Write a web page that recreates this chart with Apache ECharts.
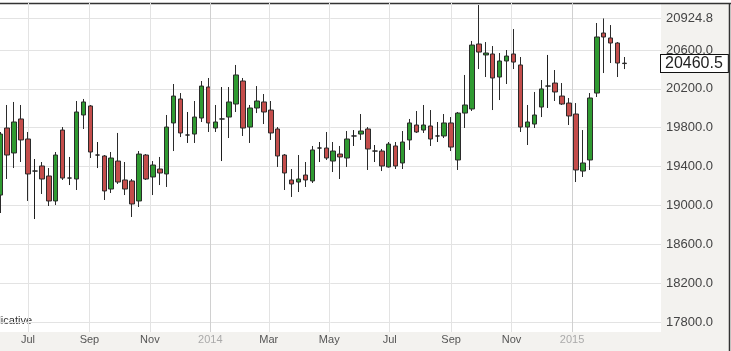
<!DOCTYPE html>
<html><head><meta charset="utf-8">
<script src="https://cdn.jsdelivr.net/npm/echarts@6/dist/echarts.min.js"></script>
<style>html,body{margin:0;padding:0;background:#f3f2ef}#c{width:731px;height:351px}</style>
</head><body><div id="c"></div>
<script>
// weekly candles, first week starting Monday
const firstWeek = '2013-06-03';
const opens  = [19107,19797,19540,19890,19684,19354,19406,19303,19046,19776,19282,19272,19931,20024,19519,19509,19169,19457,19262,19252,19046,19519,19293,19375,19324,19849,20096,19725,19735,19900,20219,19797,19890,19910,20044,20281,19807,20003,20065,19982,19787,19519,19262,19241,19313,19252,19591,19591,19457,19529,19488,19715,19735,19787,19560,19560,19396,19612,19437,19674,19828,19776,19818,19715,19715,19849,19468,19951,19993,20662,20549,20559,20322,20487,20559,20446,19807,19838,20013,20229,20260,20126,20054,19941,19354,19468,20157,20775,20724,20672,20465];
const closes = [19735,19519,19859,19674,19324,19354,19272,19046,19519,19282,19282,19962,20065,19550,19519,19149,19488,19241,19169,19015,19529,19272,19416,19334,19807,20126,19746,19725,19910,20229,19849,19859,19890,20065,20343,19797,20003,20075,19962,19746,19509,19334,19221,19272,19262,19571,19591,19488,19560,19499,19684,19715,19766,19581,19560,19406,19632,19406,19653,19849,19756,19828,19684,19715,19849,19601,19951,20034,20651,20579,20569,20312,20487,20538,20476,19807,19859,19931,20199,20229,20168,20044,19921,19365,19437,20106,20734,20734,20672,20466,20460.5];
const lows   = [18922,19272,19385,19447,19046,18860,19118,18994,19004,19262,19210,19159,19787,19488,19385,19056,19128,19221,19107,18881,18984,19262,19107,19210,19190,19560,19704,19643,19643,19859,19756,19756,19457,19694,19962,19715,19643,19951,19838,19674,19396,19159,19087,19138,19190,19231,19447,19468,19344,19272,19396,19612,19674,19365,19447,19354,19390,19375,19375,19571,19746,19746,19612,19653,19694,19560,19365,19797,19972,20404,20322,19982,20085,20250,20404,19756,19622,19797,19910,20003,20075,20034,19828,19241,19293,19365,20116,20363,20466,20322,20404];
const highs  = [19756,20034,20065,20034,19756,19478,19447,19385,19550,19807,19499,20075,20096,20034,19653,19519,19550,19746,19447,19272,19560,19529,19457,19499,19931,20250,20157,19962,20075,20281,20312,20034,20219,20219,20446,20312,20034,20229,20147,20075,19807,19529,19375,19519,19447,19612,19653,19756,19653,19612,19766,19776,19941,19807,19622,19581,19653,19653,19766,19890,19972,20034,19982,19859,19941,19910,19962,20343,20693,21063,20682,20641,20569,20600,20816,20528,20034,20168,20291,20549,20394,20260,20106,20054,19776,20157,20878,20924.8,20857,20682,20528];

const yTickValues = [17800,18200,18600,19000,19400,19800,20200,20600,20924.8];
const xTickDates = ['2013-07-01','2013-09-01','2013-11-01','2014-01-01','2014-03-01','2014-05-01','2014-07-01','2014-09-01','2014-11-01','2015-01-01'];
const yearLineDates = ['2014-01-01','2015-01-01'];
const monthNames = ['Jan','Feb','Mar','Apr','May','Jun','Jul','Aug','Sep','Oct','Nov','Dec'];
const lastPrice = 20460.5;

const DAY = 864e5;
function ts(s){ const p = s.split('-').map(Number); return Date.UTC(p[0], p[1]-1, p[2]); }
const weekStamps = opens.map((_, i) => ts(firstWeek) + i * 7 * DAY);
const xTicks = xTickDates.map(ts);
const xMin = ts('2013-07-01') - 28.26 * DAY;
const xMax = ts('2013-07-01') + 638.8 * DAY;

const candleData = weekStamps.map((t, i) => [t, opens[i], closes[i], lows[i], highs[i]]);

const FONT = "'Liberation Sans', Arial, sans-serif";
const chart = echarts.init(document.getElementById('c'), null, {renderer: 'canvas'});
chart.setOption({
  animation: false,
  backgroundColor: '#f3f2ef',
  grid: {left: 0, right: 70, top: 3, bottom: 19, show: true, backgroundColor: '#ffffff', borderWidth: 0, containLabel: false},
  xAxis: {
    type: 'value', min: xMin, max: xMax, scale: true,
    axisLine: {show: false},
    axisTick: {show: false, customValues: xTicks},
    axisLabel: {
      customValues: xTicks, margin: 2, fontSize: 11, fontFamily: FONT, color: '#555',
      formatter: function (v) {
        const d = new Date(v);
        const m = d.getUTCMonth();
        return m === 0 ? '{y|' + d.getUTCFullYear() + '}' : '{m|' + monthNames[m] + '}';
      },
      rich: {
        y: {color: '#aaaaaa', fontSize: 11, fontFamily: FONT},
        m: {color: '#555555', fontSize: 11, fontFamily: FONT}
      }
    },
    splitLine: {show: true, lineStyle: {color: '#e3e3e3', width: 1}}
  },
  yAxis: {
    type: 'value', position: 'right', min: 17697, max: 21084,
    axisLine: {show: false},
    axisTick: {show: false, customValues: yTickValues},
    axisLabel: {customValues: yTickValues, margin: 5, fontSize: 13, fontFamily: FONT, color: '#444',
      formatter: v => Number(v).toFixed(1)},
    splitLine: {show: true, lineStyle: {color: '#e3e3e3', width: 1}}
  },
  series: [
    {
      type: 'line', data: [], z: 1, silent: true, clip: false,
      markLine: {
        silent: true, symbol: 'none', animation: false,
        label: {show: false},
        lineStyle: {color: '#d0d0d0', width: 1, type: 'solid'},
        data: yearLineDates.map(s => ({xAxis: ts(s)}))
      }
    },
    {
      type: 'candlestick', z: 3,
      data: candleData,
      encode: {x: 0, y: [1, 2, 3, 4]},
      barWidth: 5,
      itemStyle: {
        color: '#2f9a31', color0: '#c44d4b',
        borderColor: '#2b2b2b', borderColor0: '#2b2b2b', borderColorDoji: '#1e1e1e',
        borderWidth: 1
      }
    },
    {
      type: 'line', data: [], z: 5, silent: true, clip: false,
      markLine: {
        silent: true, symbol: 'none', animation: false,
        lineStyle: {color: 'rgba(0,0,0,0)', width: 1},
        data: [{yAxis: lastPrice}],
        label: {
          show: true, position: 'end', distance: 0,
          formatter: lastPrice.toFixed(1),
          color: '#222', fontSize: 16, fontFamily: FONT,
          backgroundColor: '#ffffff', borderColor: '#111', borderWidth: 1,
          padding: [1, 5, 0, 4]
        }
      }
    }
  ],
  graphic: [
    {type: 'rect', shape: {x: 0, y: 0, width: 731, height: 3}, style: {fill: '#ffffff'}, silent: true},
    {type: 'line', shape: {x1: 0, y1: 3.5, x2: 731, y2: 3.5}, style: {stroke: '#333', lineWidth: 1.5}, silent: true},
    {type: 'line', shape: {x1: 729.5, y1: 3, x2: 729.5, y2: 351}, style: {stroke: '#333', lineWidth: 1.5}, silent: true},
    {type: 'text', x: 32, y: 321, style: {text: 'Indicative', align: 'right', verticalAlign: 'middle', fontSize: 11, fontFamily: FONT, fill: '#333'}, silent: true}
  ]
});
</script>
</body></html>
